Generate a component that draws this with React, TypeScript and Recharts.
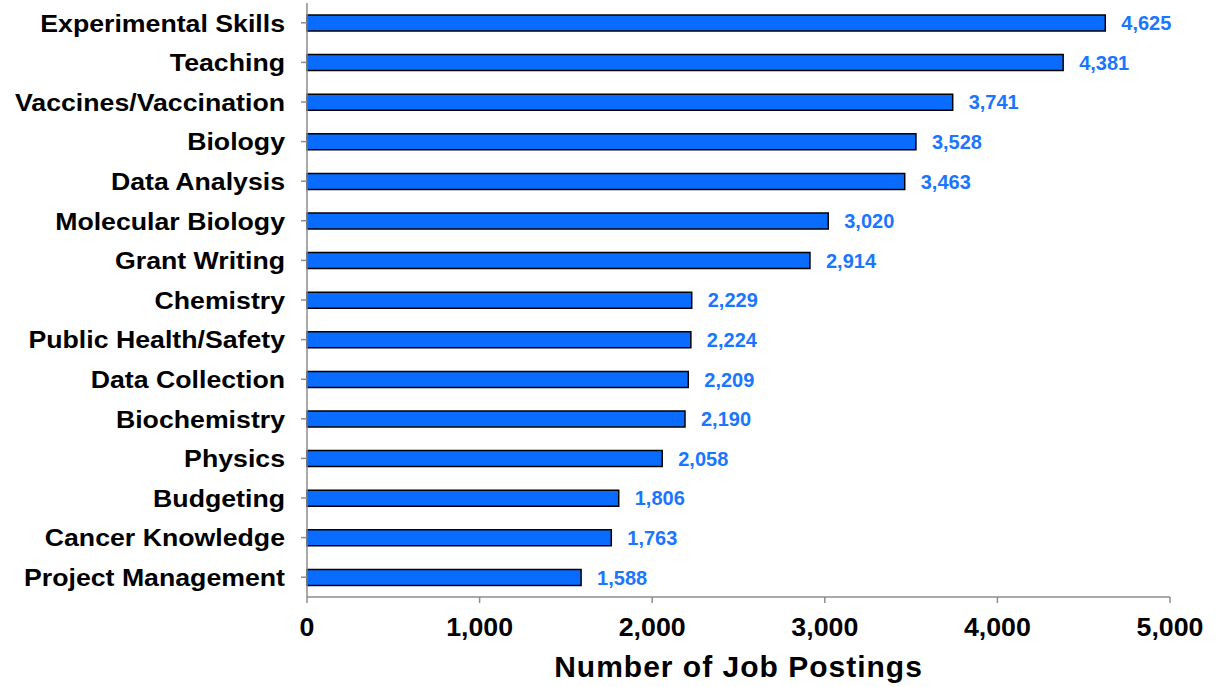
import React from "react";
import { BarChart, Bar, XAxis, YAxis, LabelList } from "recharts";

const skills = [
  "Experimental Skills",
  "Teaching",
  "Vaccines/Vaccination",
  "Biology",
  "Data Analysis",
  "Molecular Biology",
  "Grant Writing",
  "Chemistry",
  "Public Health/Safety",
  "Data Collection",
  "Biochemistry",
  "Physics",
  "Budgeting",
  "Cancer Knowledge",
  "Project Management",
];

const postings = [4625, 4381, 3741, 3528, 3463, 3020, 2914, 2229, 2224, 2209, 2190, 2058, 1806, 1763, 1588];

const xTicks = [0, 1000, 2000, 3000, 4000, 5000];

const data = skills.map((s, i) => ({ skill: s, value: postings[i] }));

const fmt = (v: number) => Number(v).toLocaleString("en-US");

const FONT = "'Liberation Sans', Arial, sans-serif";

const YTick = (props: any) => {
  const { x, y, payload } = props;
  return (
    <g transform={`translate(${x},${y}) scale(1.09,1)`}>
      <text x={0} y={0} dy="0.355em" textAnchor="end" fill="#000" fontSize={24.5} fontWeight="bold" fontFamily={FONT}>
        {payload.value}
      </text>
    </g>
  );
};

const XTick = (props: any) => {
  const { x, y, payload } = props;
  return (
    <g transform={`translate(${x},${y}) scale(1.07,1)`}>
      <text x={0} y={0} dy="0.71em" textAnchor="middle" fill="#000" fontSize={25} fontWeight="bold" fontFamily={FONT}>
        {fmt(payload.value)}
      </text>
    </g>
  );
};

export default function App() {
  return (
    <div style={{ position: "absolute", left: 0, top: 0, width: 1220, height: 687, background: "#fff" }}>
      <BarChart
        width={1220}
        height={687}
        data={data}
        layout="vertical"
        margin={{ top: 3, right: 50, bottom: 0, left: 0 }}
        barCategoryGap={0}
        style={{ fontFamily: FONT }}
      >
        <XAxis
          type="number"
          domain={[0, 5000]}
          ticks={xTicks}
          height={90}
          axisLine={{ stroke: "#8c8c8c", strokeWidth: 1.5 }}
          tickLine={{ stroke: "#8c8c8c", strokeWidth: 1.5 }}
          tickSize={6}
          tickMargin={15}
          tick={<XTick />}
          label={{
            value: "Number of Job Postings",
            position: "insideBottom",
            offset: 10,
            fill: "#000",
            fontSize: 30,
            fontWeight: "bold",
            fontFamily: FONT,
            letterSpacing: 1,
          }}
        />
        <YAxis
          type="category"
          dataKey="skill"
          width={307}
          axisLine={{ stroke: "#8c8c8c", strokeWidth: 1.5 }}
          tickLine={{ stroke: "#8c8c8c", strokeWidth: 1.5 }}
          tickSize={6}
          tickMargin={16}
          interval={0}
          tick={<YTick />}
        />
        <Bar dataKey="value" fill="#0a6cff" stroke="#000" strokeWidth={1.5} barSize={16} isAnimationActive={false}>
          <LabelList
            dataKey="value"
            position="right"
            offset={16}
            formatter={fmt}
            style={{ fill: "#1a75ff", fontSize: 20, fontWeight: "bold", fontFamily: FONT }}
          />
        </Bar>
      </BarChart>
    </div>
  );
}
